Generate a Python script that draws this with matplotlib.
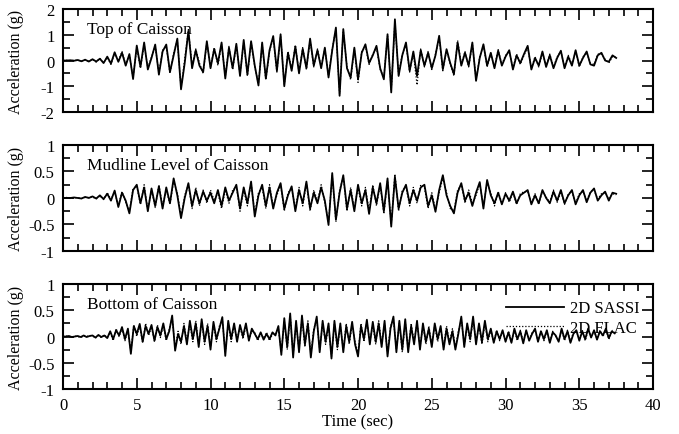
import numpy as np
import matplotlib.pyplot as plt
from matplotlib.ticker import MultipleLocator, FormatStrFormatter

plt.rcParams['font.family'] = 'Liberation Serif'
plt.rcParams['axes.unicode_minus'] = False

top_sassi = [
    0.00, 0.00, 0.01, -0.01, 0.02, -0.03, 0.03, -0.04,
    0.05, -0.04, 0.07, -0.10, 0.15, -0.12, 0.32, -0.05,
    0.30, -0.20, 0.25, -0.72, 0.58, -0.25, 0.70, -0.35,
    0.10, 0.62, -0.55, 0.35, 0.62, -0.45, 0.20, 0.85,
    -1.12, -0.10, 1.15, -0.30, 0.40, -0.20, -0.45, 0.75,
    -0.30, 0.45, -0.10, 0.70, -0.70, 0.50, -0.30, 0.65,
    -0.60, 0.80, -0.55, 0.75, -0.20, -0.97, 0.70, -0.70,
    0.40, 0.95, -0.40, 1.02, -1.00, 0.30, -0.40, 0.55,
    -0.50, 0.45, -0.30, 0.85, -0.20, 0.40, -0.30, 0.50,
    -0.66, 0.40, 1.28, -1.37, 1.22, -0.30, -0.66, 0.50,
    -0.73, 0.30, 0.63, -0.10, 0.20, 0.57, -0.30, -0.73,
    1.02, -1.24, 1.60, -0.60, 0.20, 0.70, -0.40, 0.35,
    -0.60, 0.40, -0.20, 0.30, -0.30, 0.20, 0.96, -0.34,
    0.44, -0.10, -0.53, 0.70, -0.20, 0.30, -0.20, 0.70,
    -0.79, 0.10, 0.63, -0.20, 0.30, -0.30, 0.38, -0.20,
    0.15, 0.40, -0.35, 0.20, -0.10, 0.25, 0.57, -0.35,
    0.10, -0.20, 0.35, -0.25, 0.20, -0.30, 0.10, 0.38,
    -0.30, 0.15, -0.20, 0.40, -0.20, 0.10, 0.35, -0.15,
    -0.20, 0.20, 0.30, 0.00, -0.05, 0.20, 0.10]
top_flac = [
    0.00, 0.01, -0.01, 0.01, 0.01, -0.02, 0.04, -0.03,
    0.04, -0.06, 0.08, -0.08, 0.12, -0.15, 0.28, -0.02,
    0.35, -0.15, 0.20, -0.65, 0.50, -0.30, 0.62, -0.28,
    0.15, 0.55, -0.48, 0.40, 0.55, -0.50, 0.30, 0.78,
    -1.05, 0.05, 1.20, -0.20, 0.45, -0.10, -0.50, 0.70,
    -0.25, 0.50, -0.20, 0.62, -0.62, 0.55, -0.35, 0.58,
    -0.55, 0.72, -0.60, 0.70, -0.25, -0.90, 0.62, -0.75,
    0.35, 0.88, -0.45, 0.95, -0.92, 0.35, -0.35, 0.60,
    -0.45, 0.50, -0.35, 0.78, -0.25, 0.45, -0.25, 0.45,
    -0.60, 0.45, 1.20, -1.30, 1.15, -0.25, -0.75, 0.45,
    -0.85, 0.35, 0.55, -0.15, 0.25, 0.50, -0.35, -0.65,
    0.95, -1.15, 1.50, -0.55, 0.25, 0.62, -0.45, 0.30,
    -0.95, 0.45, -0.25, 0.35, -0.35, 0.25, 0.88, -0.40,
    0.40, -0.15, -0.60, 0.78, -0.15, 0.35, -0.25, 0.65,
    -0.72, 0.15, 0.58, -0.25, 0.25, -0.25, 0.42, -0.15,
    0.20, 0.35, -0.30, 0.25, -0.15, 0.20, 0.50, -0.30,
    0.15, -0.25, 0.30, -0.20, 0.25, -0.25, 0.15, 0.35,
    -0.25, 0.20, -0.15, 0.35, -0.25, 0.15, 0.30, -0.10,
    -0.15, 0.25, 0.25, 0.05, -0.10, 0.15, 0.12]

mud_sassi = [
    0.00, 0.00, 0.00, 0.01, 0.00, -0.01, 0.02, 0.00,
    0.03, -0.01, 0.05, -0.02, 0.08, -0.05, 0.14, -0.17,
    0.10, -0.05, -0.29, 0.15, 0.25, -0.10, 0.20, -0.25,
    0.18, -0.15, 0.22, -0.20, 0.20, -0.10, 0.37, 0.05,
    -0.38, 0.00, 0.28, -0.15, 0.15, -0.10, 0.12, -0.05,
    0.10, -0.10, 0.15, -0.15, 0.20, -0.05, 0.10, 0.25,
    -0.20, 0.20, -0.10, 0.31, -0.35, 0.05, 0.25, -0.15,
    0.20, -0.20, 0.10, 0.28, -0.20, 0.05, 0.22, -0.25,
    0.15, -0.10, 0.31, -0.20, 0.10, -0.10, 0.20, -0.05,
    -0.51, 0.47, -0.41, 0.10, 0.43, -0.20, 0.15, -0.25,
    0.25, -0.10, 0.15, -0.30, 0.20, -0.10, 0.28, -0.25,
    0.37, -0.54, 0.40, -0.20, 0.10, 0.25, -0.10, 0.15,
    -0.05, 0.20, 0.25, -0.15, 0.05, -0.26, 0.15, 0.43,
    0.05, -0.15, -0.29, 0.10, 0.28, -0.05, 0.10, -0.15,
    0.10, 0.30, -0.20, 0.34, 0.05, -0.10, 0.10, -0.12,
    0.08, -0.05, 0.12, -0.10, 0.05, 0.10, 0.15, -0.12,
    0.05, -0.10, 0.15, 0.00, -0.10, 0.12, -0.05, 0.15,
    -0.10, 0.05, 0.15, -0.12, 0.05, 0.15, -0.08, 0.10,
    0.18, -0.05, 0.05, 0.12, -0.05, 0.10, 0.08]
mud_flac = [
    0.00, 0.01, -0.01, 0.00, 0.01, -0.01, 0.01, 0.01,
    0.02, -0.02, 0.04, -0.03, 0.10, -0.03, 0.12, -0.15,
    0.12, -0.08, -0.25, 0.18, 0.22, -0.12, 0.25, -0.22,
    0.15, -0.18, 0.25, -0.15, 0.15, -0.12, 0.32, 0.10,
    -0.35, 0.05, 0.25, -0.20, 0.20, -0.15, 0.15, -0.10,
    0.15, -0.05, 0.10, -0.20, 0.15, -0.10, 0.15, 0.22,
    -0.25, 0.15, -0.15, 0.28, -0.30, 0.10, 0.20, -0.20,
    0.25, -0.15, 0.05, 0.25, -0.25, 0.10, 0.18, -0.20,
    0.20, -0.15, 0.28, -0.25, 0.15, -0.05, 0.25, -0.10,
    -0.45, 0.42, -0.45, 0.15, 0.40, -0.25, 0.20, -0.20,
    0.20, -0.15, 0.20, -0.25, 0.25, -0.15, 0.25, -0.30,
    0.33, -0.50, 0.45, -0.25, 0.15, 0.20, -0.15, 0.20,
    -0.10, 0.25, 0.20, -0.20, 0.10, -0.22, 0.10, 0.38,
    0.10, -0.20, -0.25, 0.15, 0.25, -0.10, 0.15, -0.10,
    0.05, 0.27, -0.15, 0.30, 0.10, -0.15, 0.12, -0.10,
    0.10, -0.08, 0.10, -0.12, 0.08, 0.12, 0.12, -0.10,
    0.08, -0.12, 0.12, 0.02, -0.08, 0.15, -0.08, 0.12,
    -0.12, 0.08, 0.12, -0.10, 0.08, 0.12, -0.05, 0.12,
    0.15, -0.02, 0.08, 0.10, -0.02, 0.08, 0.06]

bot_sassi = [
    0.00, 0.00, 0.01, -0.01, 0.00, 0.01, -0.01, 0.02, -0.01, 0.01,
    0.02, -0.02, 0.03, -0.01, 0.02, -0.03, 0.10, -0.05, 0.12, 0.02,
    0.18, -0.05, 0.15, -0.33, 0.20, 0.05, 0.24, -0.10, 0.20, 0.05,
    0.22, -0.08, 0.18, 0.02, 0.25, -0.05, 0.10, 0.40, -0.27, 0.05,
    -0.10, 0.20, -0.15, 0.30, -0.05, 0.25, -0.20, 0.33, -0.10, 0.20,
    -0.25, 0.28, -0.05, 0.15, 0.37, -0.37, 0.30, -0.05, 0.25, -0.10,
    0.22, 0.00, 0.25, -0.08, 0.15, 0.05, -0.05, 0.08, -0.06, 0.05,
    -0.05, 0.08, 0.02, 0.20, -0.35, 0.35, -0.20, 0.44, -0.40, 0.30,
    -0.30, 0.40, -0.15, 0.25, -0.40, 0.10, 0.38, -0.30, 0.30, -0.10,
    0.25, -0.42, 0.30, -0.20, 0.25, -0.30, 0.20, -0.10, 0.28, -0.15,
    -0.38, 0.20, -0.05, 0.32, -0.15, 0.28, -0.10, 0.25, -0.20, 0.30,
    -0.38, 0.15, 0.38, -0.30, 0.30, -0.25, 0.33, -0.30, 0.20, -0.15,
    0.30, -0.25, 0.25, -0.10, 0.15, -0.20, 0.25, -0.05, 0.20, -0.25,
    0.15, -0.15, 0.10, -0.25, 0.05, 0.38, -0.20, 0.25, -0.05, 0.38,
    -0.15, 0.25, -0.10, 0.30, -0.05, 0.15, -0.12, 0.10, -0.05, 0.12,
    -0.10, 0.08, -0.12, 0.15, -0.05, 0.10, -0.13, 0.12, -0.08, 0.05,
    0.15, -0.10, 0.10, -0.05, 0.12, -0.12, 0.08, 0.02, -0.10, 0.15,
    -0.05, 0.10, -0.12, 0.05, 0.12, -0.08, 0.10, -0.05, 0.15, -0.02,
    0.12, -0.06, 0.10, 0.02, 0.15, -0.03, 0.10, 0.06]
bot_flac = [
    0.00, 0.01, 0.00, -0.01, 0.01, 0.00, -0.02, 0.01, 0.00, 0.02,
    0.01, -0.03, 0.02, -0.02, 0.03, -0.02, 0.08, -0.08, 0.15, 0.00,
    0.15, -0.08, 0.12, -0.28, 0.22, 0.00, 0.20, -0.12, 0.25, 0.02,
    0.18, -0.10, 0.22, -0.02, 0.20, -0.08, 0.15, 0.35, -0.22, 0.10,
    -0.15, 0.25, -0.10, 0.25, -0.10, 0.30, -0.15, 0.28, -0.15, 0.25,
    -0.20, 0.22, -0.10, 0.20, 0.32, -0.30, 0.25, -0.10, 0.20, -0.05,
    0.18, -0.05, 0.20, -0.05, 0.10, 0.08, -0.08, 0.05, -0.03, 0.08,
    -0.08, 0.05, 0.05, 0.15, -0.30, 0.30, -0.25, 0.40, -0.35, 0.25,
    -0.25, 0.35, -0.20, 0.30, -0.35, 0.15, 0.32, -0.25, 0.25, -0.15,
    0.20, -0.38, 0.25, -0.25, 0.20, -0.25, 0.25, -0.15, 0.22, -0.10,
    -0.32, 0.25, -0.10, 0.28, -0.10, 0.22, -0.15, 0.30, -0.15, 0.25,
    -0.32, 0.20, 0.32, -0.25, 0.25, -0.30, 0.28, -0.25, 0.25, -0.10,
    0.25, -0.20, 0.20, -0.15, 0.20, -0.15, 0.20, -0.10, 0.15, -0.20,
    0.20, -0.10, 0.15, -0.20, 0.10, 0.32, -0.15, 0.20, -0.10, 0.32,
    -0.10, 0.20, -0.15, 0.25, -0.10, 0.12, -0.10, 0.12, -0.08, 0.10,
    -0.08, 0.10, -0.10, 0.12, -0.08, 0.12, -0.10, 0.10, -0.05, 0.08,
    0.12, -0.08, 0.12, -0.08, 0.10, -0.10, 0.10, 0.00, -0.08, 0.12,
    -0.08, 0.12, -0.10, 0.08, 0.10, -0.05, 0.12, -0.08, 0.12, 0.00,
    0.10, -0.04, 0.12, 0.00, 0.12, -0.05, 0.08, 0.08]

panels = [
    ("Top of Caisson", top_sassi, top_flac, 0.25, 2, 1.0, 0.5),
    ("Mudline Level of Caisson", mud_sassi, mud_flac, 0.25, 1, 0.5, 0.25),
    ("Bottom of Caisson", bot_sassi, bot_flac, 0.2, 1, 0.5, 0.25),
]
# axes boxes in figure fraction (left, bottom, width, height)
boxes = [(0.0928, 0.7402, 0.869, 0.2368),
         (0.0928, 0.4207, 0.869, 0.2437),
         (0.0928, 0.1034, 0.869, 0.2414)]

fig = plt.figure(figsize=(6.79, 4.35), dpi=100)

for i, (name, sassi, flac, dt, ylim, ymaj, ymin) in enumerate(panels):
    ax = fig.add_axes(boxes[i])
    t1 = dt * np.arange(len(sassi))
    t2 = dt * np.arange(len(flac))
    ax.plot(t2, flac, color='black', lw=0.9, ls=(0, (1, 1.5)), label='2D FLAC')
    ax.plot(t1, sassi, color='black', lw=1.3, label='2D SASSI')
    ax.set_xlim(0, 40)
    ax.set_ylim(-ylim, ylim)
    ax.xaxis.set_major_locator(MultipleLocator(5))
    ax.xaxis.set_minor_locator(MultipleLocator(1))
    ax.yaxis.set_major_locator(MultipleLocator(ymaj))
    ax.yaxis.set_minor_locator(MultipleLocator(ymin))
    ax.yaxis.set_major_formatter(FormatStrFormatter('%g'))
    ax.tick_params(which='both', direction='in', top=True, right=True,
                   labelsize=12, width=1.2)
    ax.tick_params(axis='y', pad=6)
    ax.tick_params(axis='x', pad=6)
    ax.tick_params(which='major', length=8)
    ax.tick_params(which='minor', length=5)
    for s in ax.spines.values():
        s.set_linewidth(1.5)
    ax.set_ylabel('Acceleration (g)', fontsize=11.5)
    ax.yaxis.set_label_coords(-0.066, 0.5)
    ax.text(0.04, 0.81, name, transform=ax.transAxes, fontsize=12.5, va='center')
    if i < 2:
        ax.tick_params(labelbottom=False)
    else:
        ax.set_xlabel('Time (sec)', fontsize=12, labelpad=0)
        h, l = ax.get_legend_handles_labels()
        ax.legend(h[::-1], l[::-1], loc='upper right', bbox_to_anchor=(1.0, 0.97),
                  frameon=False, fontsize=12, handlelength=3.5, handletextpad=0.35,
                  labelspacing=0.2, borderpad=0.3)

fig.savefig('out.png', dpi=100)
